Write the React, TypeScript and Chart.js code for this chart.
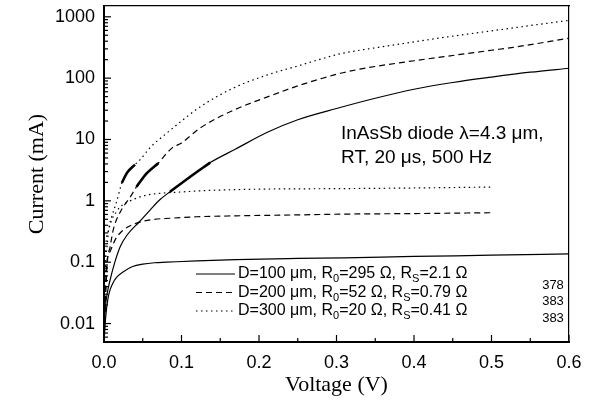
import React, { useEffect, useRef } from "react";
import { Chart, registerables } from "chart.js";

Chart.register(...registerables);

// ---- data (Voltage V, Current mA) ----
const vFwd100 = [0, 0.0013, 0.004, 0.008, 0.014, 0.021, 0.03, 0.046, 0.06, 0.072, 0.085, 0.11, 0.137, 0.17, 0.21, 0.25, 0.3, 0.35, 0.4, 0.45, 0.5, 0.55, 0.6];
const iFwd100 = [0.005, 0.015, 0.03, 0.052, 0.1, 0.18, 0.28, 0.46, 0.72, 1.04, 1.4, 2.4, 4.2, 7, 13, 21, 32, 47, 66, 85, 104, 125, 145];
const vMeas100 = [0.085, 0.11, 0.137];
const iMeas100 = [1.4, 2.4, 4.2];
const vSat100 = [0, 0.002, 0.005, 0.008, 0.012, 0.017, 0.025, 0.037, 0.05, 0.065, 0.081, 0.12, 0.17, 0.25, 0.31, 0.4, 0.5, 0.6];
const iSat100 = [0.005, 0.012, 0.025, 0.036, 0.047, 0.058, 0.07, 0.085, 0.093, 0.098, 0.1, 0.105, 0.11, 0.115, 0.118, 0.124, 0.13, 0.137];

const vFwd200 = [0, 0.004, 0.008, 0.012, 0.021, 0.034, 0.042, 0.055, 0.07, 0.08, 0.088, 0.1, 0.124, 0.167, 0.21, 0.253, 0.28, 0.305, 0.33, 0.35, 0.4, 0.453, 0.5, 0.528, 0.6];
const iFwd200 = [0.005, 0.09, 0.18, 0.34, 0.66, 1.16, 1.7, 2.8, 4.1, 5.8, 7.3, 8.8, 15.4, 30, 49, 77, 98, 120, 140, 155, 192, 237, 285, 318, 447];
const vMeas200 = [0.042, 0.055, 0.07];
const iMeas200 = [1.7, 2.8, 4.1];
const vSat200 = [0, 0.003, 0.008, 0.015, 0.022, 0.03, 0.046, 0.065, 0.085, 0.12, 0.17, 0.25, 0.32, 0.4, 0.5];
const iSat200 = [0.005, 0.08, 0.15, 0.24, 0.31, 0.37, 0.45, 0.5, 0.52, 0.55, 0.57, 0.59, 0.61, 0.62, 0.64];

const vFwd300 = [0, 0.002, 0.004, 0.006, 0.01, 0.017, 0.023, 0.03, 0.04, 0.046, 0.06, 0.081, 0.1, 0.124, 0.167, 0.21, 0.253, 0.28, 0.305, 0.33, 0.35, 0.4, 0.453, 0.5, 0.55, 0.6];
const iFwd300 = [0.005, 0.09, 0.18, 0.34, 0.55, 1.04, 1.96, 2.9, 3.9, 4.6, 7.5, 12.7, 20, 34, 69, 112, 162, 205, 250, 285, 312, 390, 490, 590, 720, 875];
const vMeas300 = [0.023, 0.03, 0.04];
const iMeas300 = [1.96, 2.9, 3.9];
const vSat300 = [0, 0.002, 0.005, 0.01, 0.016, 0.021, 0.03, 0.037, 0.05, 0.065, 0.085, 0.11, 0.137, 0.2, 0.3, 0.4, 0.5];
const iSat300 = [0.005, 0.15, 0.3, 0.49, 0.66, 0.8, 0.95, 1.04, 1.2, 1.3, 1.36, 1.42, 1.48, 1.55, 1.58, 1.62, 1.68];

const xMin = 0;
const xMax = 0.6;
const xMajorStep = 0.1;
const xMinorStep = 0.05;
const yMin = 0.005;
const yMax = 1500;

const xTitle = "Voltage (V)";
const yTitle = "Current (mA)";
const noteLines = ["InAsSb diode \u03bb=4.3 \u03bcm,", "RT, 20 \u03bcs, 500 Hz"];

// legend pieces: [text, isSubscript]
const legendRows: [string, boolean][][] = [
  [["D=100 \u03bcm, R", false], ["0", true], ["=295 \u03a9, R", false], ["S", true], ["=2.1 \u03a9", false]],
  [["D=200 \u03bcm, R", false], ["0", true], ["=52 \u03a9, R", false], ["S", true], ["=0.79 \u03a9", false]],
  [["D=300 \u03bcm, R", false], ["0", true], ["=20 \u03a9, R", false], ["S", true], ["=0.41 \u03a9", false]],
];
const sideNumbers = ["378", "383", "383"];

const SANS = '"Liberation Sans", Arial, Helvetica, sans-serif';
const SERIF = '"Liberation Serif", "Times New Roman", Times, serif';

const dashSolid: number[] = [];
const dashDashed = [6, 4];
const dashDotted = [1.5, 3.5];
const legendDashes = [dashSolid, dashDashed, dashDotted];

const pts = (xs: number[], ys: number[]) => xs.map((x, i) => ({ x, y: ys[i] }));

const line = (xs: number[], ys: number[], dash: number[], width = 1.2) => ({
  data: pts(xs, ys),
  borderColor: "#000",
  borderWidth: width,
  borderDash: dash,
  pointRadius: 0,
  fill: false,
  cubicInterpolationMode: "monotone" as const,
});

const isPow10 = (v: number) => {
  const l = Math.log10(v);
  return Math.abs(l - Math.round(l)) < 1e-6;
};

const decorPlugin = {
  id: "decor",
  afterDraw(chart: any) {
    const { ctx, chartArea: a, scales } = chart;
    const x = scales.x;
    const y = scales.y;
    ctx.save();
    ctx.globalAlpha = 1;
    ctx.lineCap = "butt";
    ctx.strokeStyle = "#000";
    ctx.fillStyle = "#000";
    ctx.setLineDash([]);
    // y ticks (inward)
    ctx.lineWidth = 1.2;
    const d0 = Math.floor(Math.log10(yMin));
    const d1 = Math.ceil(Math.log10(yMax));
    for (let d = d0; d <= d1; d++) {
      for (let k = 1; k <= 9; k++) {
        const v = k * Math.pow(10, d);
        if (v < yMin || v > yMax) continue;
        const py = y.getPixelForValue(v);
        ctx.beginPath();
        ctx.moveTo(a.left, py);
        ctx.lineTo(a.left + (k === 1 ? 7 : 4), py);
        ctx.stroke();
      }
    }
    // x ticks (inward)
    const n = Math.round((xMax - xMin) / xMinorStep);
    for (let i = 0; i <= n; i++) {
      const v = xMin + i * xMinorStep;
      const px = x.getPixelForValue(v);
      const major = Math.abs(v / xMajorStep - Math.round(v / xMajorStep)) < 1e-6;
      ctx.beginPath();
      ctx.moveTo(px, a.bottom);
      ctx.lineTo(px, a.bottom - (major ? 7 : 4));
      ctx.stroke();
    }

    // annotation
    ctx.font = `19px ${SANS}`;
    ctx.textAlign = "left";
    ctx.textBaseline = "middle";
    noteLines.forEach((t, i) => ctx.fillText(t, a.left + 237, a.top + 128 + i * 24));

    // legend
    legendRows.forEach((row, i) => {
      const ry = a.top + 268 + i * 18.5;
      ctx.save();
      ctx.lineWidth = 1.2;
      ctx.setLineDash(legendDashes[i]);
      ctx.beginPath();
      ctx.moveTo(a.left + 92, ry);
      ctx.lineTo(a.left + 131, ry);
      ctx.stroke();
      ctx.restore();
      let tx = a.left + 134;
      row.forEach(([t, sub]) => {
        ctx.font = sub ? `11px ${SANS}` : `16px ${SANS}`;
        ctx.fillText(t, tx, sub ? ry + 5 : ry);
        tx += ctx.measureText(t).width;
      });
    });
    ctx.font = `13px ${SANS}`;
    ctx.textAlign = "center";
    sideNumbers.forEach((t, i) => ctx.fillText(t, a.left + 449, a.top + 279 + i * 16.5));
    ctx.restore();
  },
};

export default function App() {
  const ref = useRef<HTMLCanvasElement | null>(null);
  useEffect(() => {
    if (!ref.current) return;
    const chart = new Chart(ref.current, {
      type: "line",
      data: {
        datasets: [
          line(vFwd100, iFwd100, dashSolid),
          line(vSat100, iSat100, dashSolid),
          line(vMeas100, iMeas100, dashSolid, 2.6),
          line(vFwd200, iFwd200, dashDashed),
          line(vSat200, iSat200, dashDashed),
          line(vMeas200, iMeas200, dashSolid, 2.6),
          line(vFwd300, iFwd300, dashDotted),
          line(vSat300, iSat300, dashDotted),
          line(vMeas300, iMeas300, dashSolid, 2.6),
        ] as any,
      },
      options: {
        responsive: false,
        animation: false,
        events: [],
        layout: { padding: { left: 0, right: 29, top: 6, bottom: 0 } },
        plugins: { legend: { display: false }, tooltip: { enabled: false } },
        scales: {
          x: {
            type: "linear",
            position: "bottom",
            min: xMin,
            max: xMax,
            grid: { display: false, drawTicks: false },
            border: { display: true, color: "#000", width: 2 },
            ticks: {
              stepSize: xMajorStep,
              padding: 10,
              color: "#000",
              font: { family: SANS, size: 18 },
              callback: (v: any) => Number(v).toFixed(1),
            },
            title: {
              display: true,
              text: xTitle,
              color: "#000",
              font: { family: SERIF, size: 22 },
              padding: { top: 0, bottom: 14 },
            },
            afterFit: (s: any) => {
              s.height = 70;
              s.paddingLeft = 0;
              s.paddingRight = 0;
            },
          },
          xTop: {
            type: "linear",
            position: "top",
            min: xMin,
            max: xMax,
            grid: { display: false, drawTicks: false },
            border: { display: true, color: "#000", width: 1.2 },
            ticks: { display: false },
            afterFit: (s: any) => {
              s.height = 0;
              s.paddingLeft = 0;
              s.paddingRight = 0;
            },
          },
          y: {
            type: "logarithmic",
            position: "left",
            min: yMin,
            max: yMax,
            grid: { display: false, drawTicks: false },
            border: { display: true, color: "#000", width: 2 },
            ticks: {
              autoSkip: false,
              padding: 9,
              color: "#000",
              font: { family: SANS, size: 18 },
              callback: (v: any) => (isPow10(Number(v)) ? String(Number(Number(v).toPrecision(1))) : ""),
            },
            title: {
              display: true,
              text: yTitle,
              color: "#000",
              font: { family: SERIF, size: 22 },
              padding: { top: 24, bottom: 0 },
            },
            afterFit: (s: any) => {
              s.width = 104;
              s.paddingTop = 0;
              s.paddingBottom = 0;
            },
          },
          yRight: {
            type: "logarithmic",
            position: "right",
            min: yMin,
            max: yMax,
            grid: { display: false, drawTicks: false },
            border: { display: true, color: "#000", width: 1.2 },
            ticks: { display: false },
            afterFit: (s: any) => {
              s.width = 0;
              s.paddingTop = 0;
              s.paddingBottom = 0;
            },
          },
        },
      } as any,
      plugins: [decorPlugin],
    });
    return () => chart.destroy();
  }, []);
  return (
    <div style={{ position: "absolute", left: 0, top: 0, width: 598, height: 412, background: "#fff" }}>
      <canvas ref={ref} width={598} height={412} />
    </div>
  );
}
